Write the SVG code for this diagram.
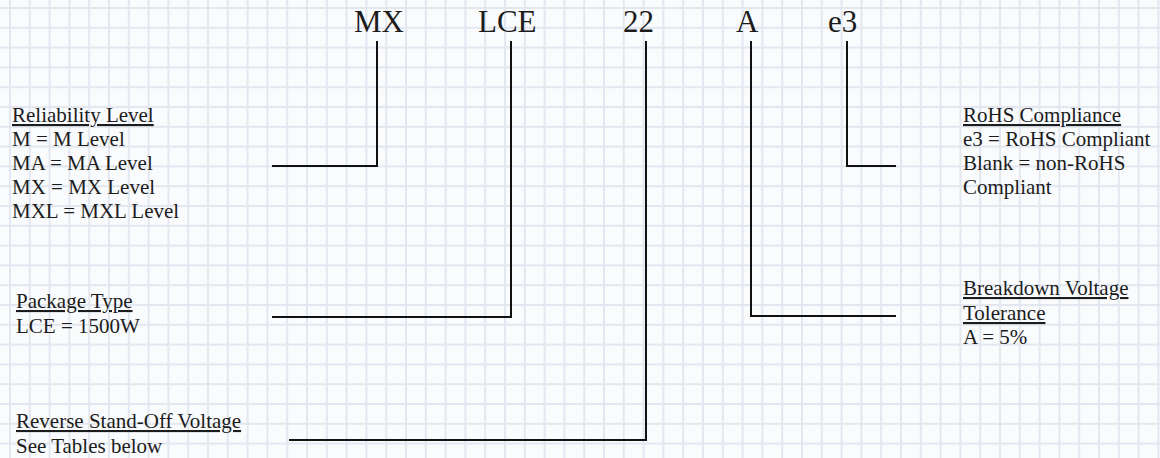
<svg xmlns="http://www.w3.org/2000/svg" width="1160" height="458" viewBox="0 0 1160 458">
  <style>
    .code { font-family: "Liberation Serif", "Times New Roman", serif; font-size: 31px; fill: #1c1c1c; }
    .lbl { font-family: "Liberation Serif", "Times New Roman", serif; font-size: 21px; fill: #1c1c1c; }
    .hd { text-decoration: underline; }
    .conn { fill: none; stroke: #111; stroke-width: 2; }
  </style>
  <defs>
    <pattern id="grid" patternUnits="userSpaceOnUse" x="9" y="7" width="19.8" height="19.8">
      <rect x="0" y="0" width="2" height="19.8" fill="#e3e7ef"/>
      <rect x="0" y="0" width="19.8" height="2" fill="#e3e7ef"/>
    </pattern>
  </defs>
  <rect width="1160" height="458" fill="#f9fbfd"/>
  <rect width="1160" height="458" fill="url(#grid)"/>

  <g id="codes">
    <text class="code" x="354" y="32">MX</text>
    <text class="code" x="478" y="32">LCE</text>
    <text class="code" x="623" y="32">22</text>
    <text class="code" x="736" y="32">A</text>
    <text class="code" x="828" y="32">e3</text>
  </g>

  <g id="connectors">
    <path class="conn" d="M377,41 V166 H272"/>
    <path class="conn" d="M511,41 V317 H272"/>
    <path class="conn" d="M646,41 V440 H289"/>
    <path class="conn" d="M751,41 V316 H896"/>
    <path class="conn" d="M847,41 V166 H896"/>
  </g>

  <g id="reliability">
    <text class="lbl hd" x="12" y="122">Reliability Level</text>
    <text class="lbl" x="12" y="146">M = M Level</text>
    <text class="lbl" x="12" y="170">MA = MA Level</text>
    <text class="lbl" x="12" y="194">MX = MX Level</text>
    <text class="lbl" x="12" y="218">MXL = MXL Level</text>
  </g>

  <g id="package">
    <text class="lbl hd" x="16" y="308">Package Type</text>
    <text class="lbl" x="16" y="333">LCE = 1500W</text>
  </g>

  <g id="voltage">
    <text class="lbl hd" x="16" y="428">Reverse Stand-Off Voltage</text>
    <text class="lbl" x="16" y="453">See Tables below</text>
  </g>

  <g id="rohs">
    <text class="lbl hd" x="963" y="122">RoHS Compliance</text>
    <text class="lbl" x="963" y="146">e3 = RoHS Compliant</text>
    <text class="lbl" x="963" y="170">Blank = non-RoHS</text>
    <text class="lbl" x="963" y="194">Compliant</text>
  </g>

  <g id="tolerance">
    <text class="lbl hd" x="963" y="295">Breakdown Voltage</text>
    <text class="lbl hd" x="963" y="320">Tolerance</text>
    <text class="lbl" x="963" y="344">A = 5%</text>
  </g>
</svg>
